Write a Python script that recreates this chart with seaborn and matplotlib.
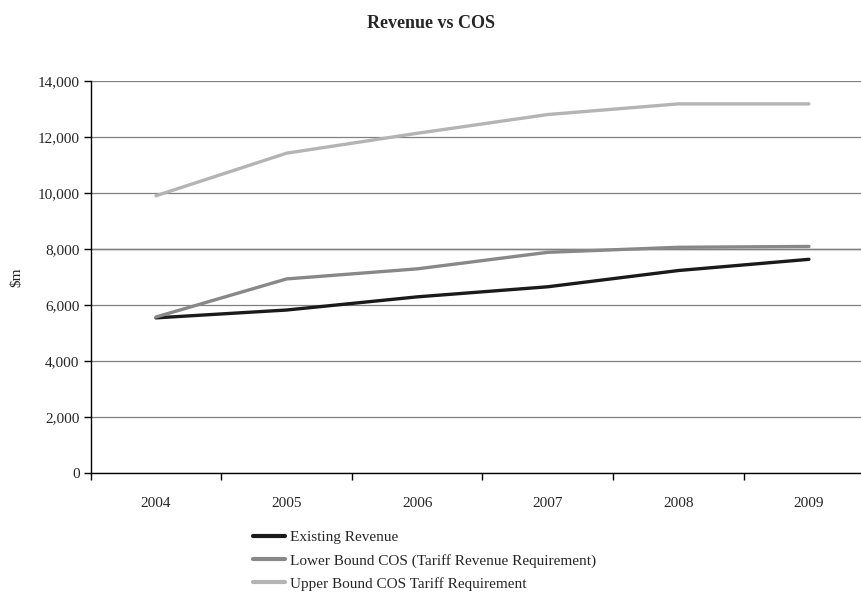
import matplotlib
matplotlib.use("Agg")
import matplotlib.pyplot as plt
import seaborn as sns
import pandas as pd
import numpy as np
from matplotlib.ticker import FuncFormatter, FixedLocator
from matplotlib.lines import Line2D

years = ["2004", "2005", "2006", "2007", "2008", "2009"]
existing_revenue = [5540, 5820, 6290, 6650, 7230, 7630]
lower_bound_cos = [5570, 6930, 7290, 7880, 8060, 8090]
upper_bound_cos = [9900, 11420, 12130, 12800, 13180, 13180]
series_names = ["Existing Revenue",
                "Lower Bound COS (Tariff Revenue Requirement)",
                "Upper Bound COS Tariff Requirement"]
colors = ["#1a1a1a", "#888888", "#b4b4b4"]

df = pd.DataFrame({
    "x": list(range(len(years))) * 3,
    "value": existing_revenue + lower_bound_cos + upper_bound_cos,
    "series": sum([[n] * len(years) for n in series_names], []),
})

sns.set_theme(style="white")
plt.rcParams["font.family"] = ["Liberation Serif", "DejaVu Serif"]

fig = plt.figure(figsize=(8.62, 5.95), dpi=100)
# axes extends slightly past the right edge of the figure, as in the reference
ax = fig.add_axes([0.1052, 0.205, 0.909, 0.659])

sns.lineplot(data=df, x="x", y="value", hue="series", palette=colors,
             linewidth=2.4, ax=ax, legend=False, sort=False)

ax.set_xlim(-0.5, len(years) - 0.5)
ax.set_ylim(0, 14000)
ax.set_yticks(np.arange(0, 14001, 2000))
ax.yaxis.set_major_formatter(FuncFormatter(lambda v, p: f"{int(v):,}"))
ax.yaxis.grid(True, color="#808080", linewidth=0.9)
ax.set_axisbelow(True)
ax.axhline(8000, color="black", linewidth=0.9, zorder=0.5)

ax.set_xticks(range(len(years)))
ax.set_xticklabels(years)
ax.xaxis.set_minor_locator(FixedLocator(np.arange(-0.5, len(years), 1.0)))
ax.tick_params(axis="x", which="major", length=0, pad=17, labelsize=11)
ax.tick_params(axis="x", which="minor", length=5, width=1, color="black", direction="out", bottom=True)
ax.tick_params(axis="y", which="major", length=5, width=1, color="black", direction="out", left=True, labelsize=11, pad=3)

for s in ["top", "right"]:
    ax.spines[s].set_visible(False)
for s in ["left", "bottom"]:
    ax.spines[s].set_color("black")
    ax.spines[s].set_linewidth(1.0)

ax.set_xlabel("")
ax.set_ylabel("$m", fontsize=11, labelpad=10)
fig.suptitle("Revenue vs COS", fontsize=13, fontweight="bold", y=0.975)

handles = [Line2D([0], [0], color=c, linewidth=3) for c in colors]
fig.legend(handles, series_names, loc="upper left", bbox_to_anchor=(0.293, 0.108),
           bbox_transform=fig.transFigure, frameon=False, fontsize=11,
           handlelength=2.15, handletextpad=0.3, labelspacing=0.6, borderaxespad=0,
           borderpad=0)

fig.savefig("out.png", dpi=100)
